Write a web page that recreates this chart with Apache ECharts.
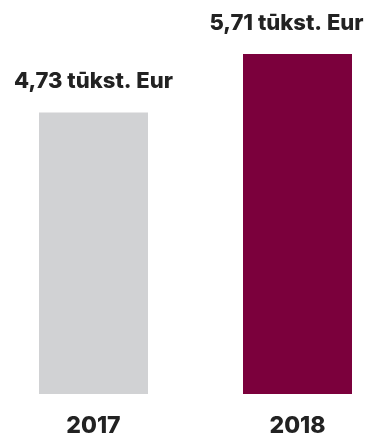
<!DOCTYPE html>
<html>
<head>
<meta charset="utf-8">
<script src="https://cdn.jsdelivr.net/npm/echarts@6/dist/echarts.min.js"></script>
<style>
  html, body { margin: 0; padding: 0; background: #fff; }
  #chart { width: 369px; height: 438px; }
</style>
</head>
<body>
<div id="chart"></div>
<script>
const years = ['2017', '2018'];
const amounts = [4.73, 5.71];
const BAR_COLORS = ['#d1d2d4', '#7b003c'];
const LABEL_SHIFT = [0, -11];

const chart = echarts.init(document.getElementById('chart'));

chart.setOption({
  backgroundColor: '#fff',
  animation: false,
  grid: { left: 93.5, right: 71.5, top: 7, bottom: 44 },
  xAxis: {
    type: 'category',
    data: years,
    boundaryGap: false,
    axisLine: { show: false },
    axisTick: { show: false },
    axisLabel: {
      margin: 21,
      fontFamily: 'Inter',
      fontWeight: 800,
      fontSize: 23,
      color: '#222'
    }
  },
  yAxis: { type: 'value', min: 0, max: 6.5, show: false },
  series: [{
    type: 'bar',
    clip: false,
    barWidth: 109,
    data: amounts.map((v, i) => ({
      value: v,
      itemStyle: { color: BAR_COLORS[i] },
      label: { offset: [LABEL_SHIFT[i], 0] }
    })),
    label: {
      show: true,
      position: 'top',
      distance: 20,
      fontFamily: 'Inter',
      fontWeight: 800,
      fontSize: 22,
      color: '#222',
      formatter: p => p.value.toFixed(2).replace('.', ',') + ' tūkst. Eur'
    }
  }]
});
</script>
</body>
</html>
